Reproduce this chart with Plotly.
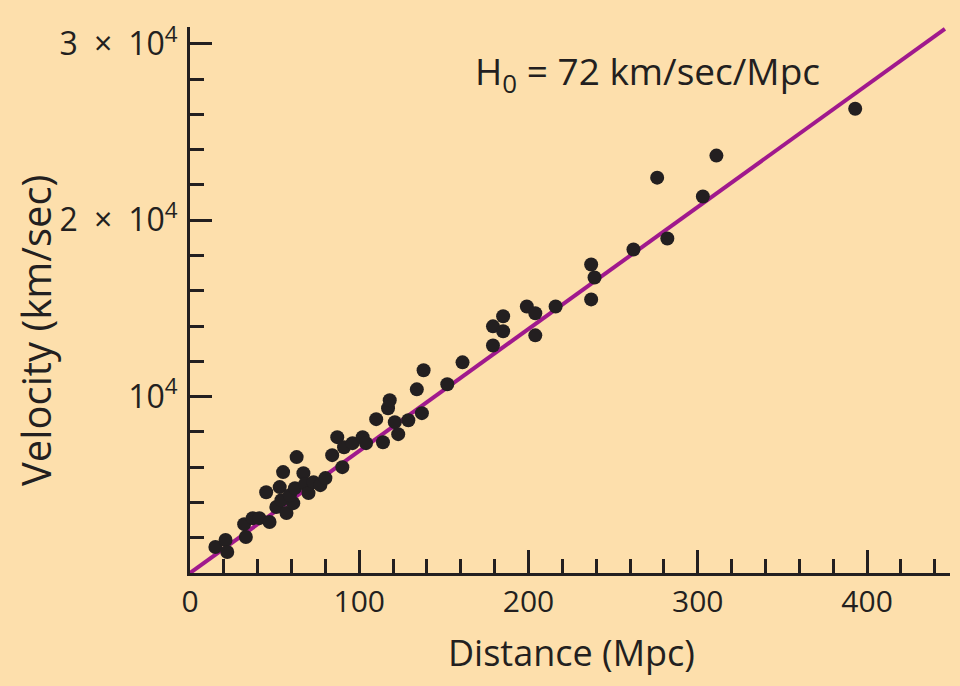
import plotly.graph_objects as go

# Galaxy distances (Mpc) and recession velocities (km/sec)
distance_mpc = [15, 21, 22, 32, 33, 37, 41, 47, 45, 53, 55, 63, 51, 54, 57, 61, 59, 62,
                67, 68, 70, 73, 77, 80, 84, 87, 90, 91, 96, 102, 104, 110, 114, 117,
                118, 121, 123, 129, 134, 137, 138, 152, 161, 179, 179, 185, 185, 199,
                204, 204, 216, 237, 239, 237, 262, 282, 276, 303, 311, 393]
velocity_kms = [1470, 1870, 1190, 2770, 2040, 3110, 3110, 2890, 4580, 4870, 5720, 6570,
                3740, 4130, 3400, 3960, 4410, 4810, 5660, 5040, 4530, 5150, 4980, 5380,
                6680, 7700, 6000, 7130, 7360, 7700, 7360, 8720, 7410, 9340, 9790, 8550,
                7870, 8660, 10410, 9060, 11490, 10700, 11940, 12900, 13980, 14550, 13700,
                15110, 14720, 13470, 15110, 17490, 16750, 15510, 18340, 18960, 22410,
                21340, 23660, 26320]

# Hubble-law fit line endpoints
fit_distance = [0, 446]
fit_velocity = [0, 30850]

# Axis ticks
x_tickvals = [0, 100, 200, 300, 400]
x_ticktext = ["0", "100", "200", "300", "400"]
y_tickvals = [10000, 20000, 30000]
y_ticktext = ["10<sup>4</sup>", "2\u2002×\u200210<sup>4</sup>", "3\u2002×\u200210<sup>4</sup>"]

BG = "rgb(253,223,172)"
INK = "#231F20"
FONT = "Open Sans"

W, H = 960, 686
ML, MR, MT, MB = 190, 10, 27, 113

fig = go.Figure()
fig.add_trace(go.Scatter(x=fit_distance, y=fit_velocity, mode="lines",
                         line=dict(color="#A0198D", width=4), hoverinfo="skip",
                         showlegend=False))
fig.add_trace(go.Scatter(x=distance_mpc, y=velocity_kms, mode="markers",
                         marker=dict(color=INK, size=14, line=dict(width=0)),
                         showlegend=False))


def px_to_paper(px, py):
    return (px - ML) / (W - ML - MR), (H - MB - py) / (H - MT - MB)


dx, dy = px_to_paper(571, 652)
vx, vy = px_to_paper(35, 331)

fig.update_layout(
    width=W, height=H,
    paper_bgcolor=BG, plot_bgcolor=BG,
    margin=dict(l=ML, r=MR, t=MT, b=MB, autoexpand=False),
    font=dict(family=FONT, color=INK, size=30),
    xaxis=dict(range=[0, 449], showgrid=False, zeroline=False, automargin=False,
               showline=True, linecolor=INK, linewidth=3,
               tickmode="array", tickvals=x_tickvals, ticktext=x_ticktext,
               ticks="inside", ticklen=23, tickwidth=3, tickcolor=INK,
               ticklabelstandoff=0, tickfont=dict(size=30),
               minor=dict(dtick=20, tick0=0, ticks="inside", ticklen=14,
                          tickwidth=3, tickcolor=INK, showgrid=False)),
    yaxis=dict(range=[0, 30950], showgrid=False, zeroline=False, automargin=False,
               showline=True, linecolor=INK, linewidth=3,
               tickmode="array", tickvals=y_tickvals, ticktext=y_ticktext,
               ticks="inside", ticklen=22, tickwidth=3, tickcolor=INK,
               ticklabelstandoff=3, tickfont=dict(size=32),
               minor=dict(dtick=2000, tick0=0, ticks="inside", ticklen=14,
                          tickwidth=3, tickcolor=INK, showgrid=False)),
    annotations=[
        dict(text="H<sub>0</sub> = 72 km/sec/Mpc", x=270, y=28360,
             xref="x", yref="y", showarrow=False, xanchor="center", yanchor="middle",
             font=dict(size=37, family=FONT, color=INK)),
        dict(text="Distance (Mpc)", x=dx, y=dy, xref="paper", yref="paper",
             xanchor="center", yanchor="middle",
             showarrow=False, font=dict(size=36, family=FONT, color=INK)),
        dict(text="Velocity (km/sec)", x=vx, y=vy, xref="paper", yref="paper",
             xanchor="center", yanchor="middle",
             showarrow=False, textangle=-90, font=dict(size=40, family=FONT, color=INK)),
    ],
)

fig.write_html(
    "out.html",
    config={"displayModeBar": False},
    post_script="document.body.style.margin='0';document.body.style.background='" + BG + "';",
)
